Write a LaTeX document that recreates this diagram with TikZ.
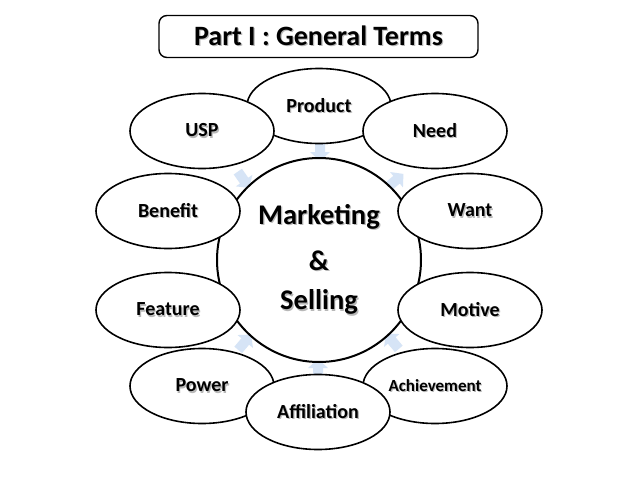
\documentclass[tikz,border=0pt]{standalone}
\usepackage{fontspec}
\setmainfont{Carlito}
\usetikzlibrary{shapes.geometric}
\definecolor{arrfill}{HTML}{D6E4F6}
\newcommand{\sh}[1]{\makebox[0pt][l]{\raisebox{-1.2pt}{\hspace{1.2pt}\textcolor{black!28}{#1}}}#1}
\tikzset{
  oval/.style={ellipse, draw=black, line width=1.6pt, fill=white, minimum width=144pt, minimum height=75pt, inner sep=0pt, font=\bfseries\fontsize{20}{20}\selectfont},
  hub/.style={circle, draw=black, line width=2pt, fill=white, minimum size=204pt, inner sep=0pt},
  titlebox/.style={draw=black, line width=1.4pt, rounded corners=8pt, fill=white, minimum width=319pt, minimum height=42pt, inner sep=0pt, font=\bfseries\fontsize{28}{28}\selectfont},
  bigtxt/.style={font=\bfseries\fontsize{28.5}{28.5}\selectfont, inner sep=0pt},
  cyclearrow/.style={fill=arrfill, draw=none}
}
\newcommand{\blockarrow}[3]{%
  \fill[cyclearrow, shift={(#1,#2)}, rotate=#3]
    (-9,-5) -- (2,-5) -- (2,-10) -- (11,0) -- (2,10) -- (2,5) -- (-9,5) -- cycle;}
\begin{document}
\begin{tikzpicture}[x=1pt, y=-1pt]
\useasboundingbox (0,0) rectangle (638,479);
\fill[white] (0,0) rectangle (638,479);
% cycle arrows (partly hidden)
\blockarrow{320}{150}{-90}
\blockarrow{395}{181}{40}
\blockarrow{243}{179}{-55}
\blockarrow{244}{343}{50}
\blockarrow{318}{370}{90}
\blockarrow{393}{342}{130}
% hub
\node[hub] (hub) at (319,260) {};
\node[bigtxt] (hubt1) at (319,217) {\sh{Marketing}};
\node[bigtxt] (hubt2) at (319,261) {\sh{\&}};
\node[bigtxt] (hubt3) at (319,303) {\sh{Selling}};
% ovals
\node[oval] (product) at (319,106) {\sh{Product}};
\node[oval] (usp) at (202,131) {\sh{USP}};
\node[oval] (need) at (435,131) {\sh{Need}};
\node[oval] (benefit) at (168,211) {\sh{Benefit}};
\node[oval] (want) at (470,211) {\sh{Want}};
\node[oval] (feature) at (168,310) {\sh{Feature}};
\node[oval] (motive) at (470,310) {\sh{Motive}};
\node[oval] (power) at (202,386) {\sh{Power}};
\node[oval] (achieve) at (435,386) {\fontsize{17}{17}\selectfont\sh{Achievement}};
\node[oval] (affil) at (318,412) {\sh{Affiliation}};
% title
\node[titlebox] (title) at (318.5,36.5) {\sh{Part I : General Terms}};
\end{tikzpicture}
\end{document}
